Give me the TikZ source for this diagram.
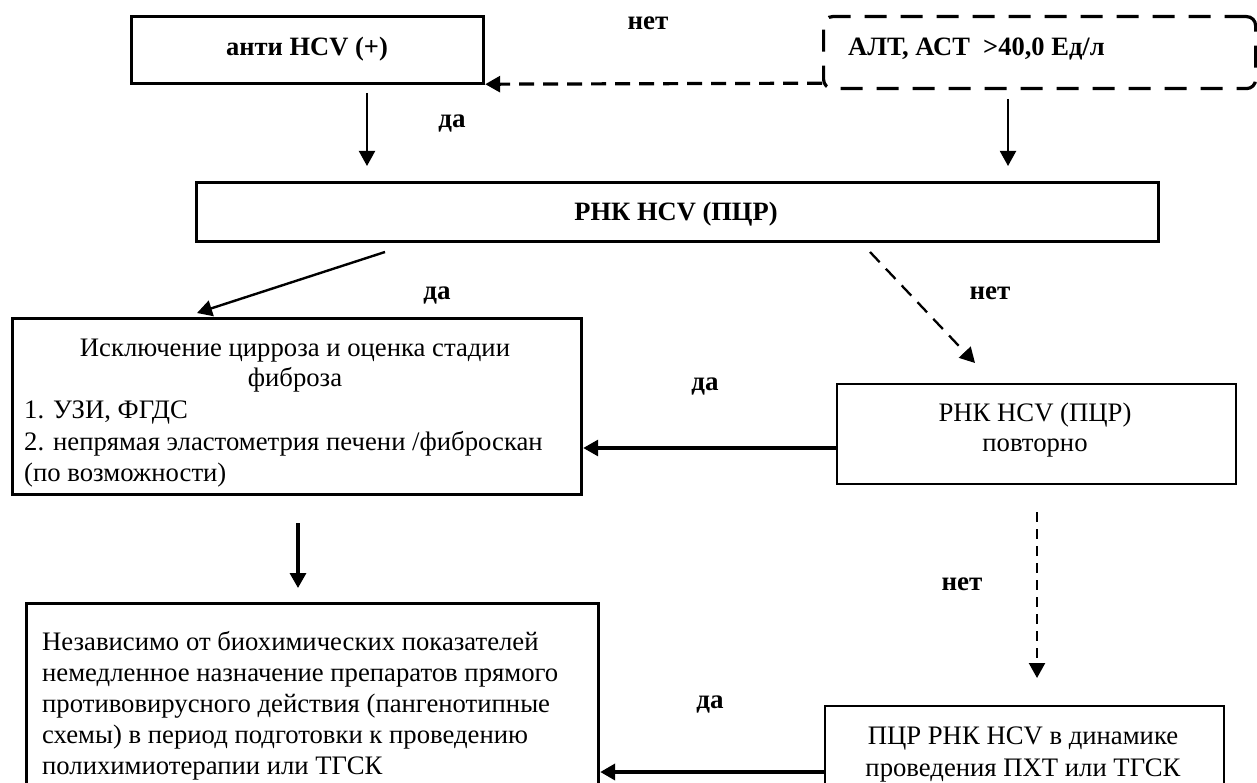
\documentclass[tikz,border=0pt]{standalone}
\usepackage{fontspec}
\setmainfont{Liberation Serif}
\usetikzlibrary{arrows.meta}
\begin{document}
\begin{tikzpicture}[x=1pt,y=-1pt,
  thickbox/.style={draw,line width=3.2pt,inner sep=0pt},
  thinbox/.style={draw,line width=2pt,inner sep=0pt},
  dashbox/.style={draw,line width=3.2pt,inner sep=0pt,rounded corners=9pt,dash pattern=on 22pt off 14pt},
  lbl/.style={font=\fontsize{27}{31}\selectfont\bfseries,inner sep=0pt,anchor=base},
  btxt/.style={font=\fontsize{26.5}{31}\selectfont\bfseries,inner sep=0pt,anchor=base},
  txt/.style={font=\fontsize{26.7}{31}\selectfont,inner sep=0pt,anchor=base},
  ltxt/.style={txt,anchor=base west},
  tip/.style={-{Triangle[length=15pt,width=16pt]}},
  arr/.style={tip,line width=2pt},
  tarr/.style={tip,line width=3.2pt},
  darr/.style={tip,line width=2.3pt,dash pattern=on 11pt off 8pt}]
\useasboundingbox (0,0) rectangle (1257,783);
\clip (0,0) rectangle (1257,783);
\fill[white] (0,0) rectangle (1257,783);

% boxes
\node[thickbox,anchor=north west,minimum width=352pt,minimum height=67pt] (A) at (130,15) {};
\node[btxt] (At) at (307,56) {анти HCV (+)};
\node[dashbox,anchor=north west,minimum width=432pt,minimum height=72pt] (B) at (822,15) {};
\node[btxt,anchor=base west] (Bt) at (848,56) {АЛТ, АСТ\ \ >40,0 Ед/л};
\node[thickbox,anchor=north west,minimum width=962pt,minimum height=59pt] (C) at (195,181) {};
\node[btxt] (Ct) at (676,221) {РНК HCV (ПЦР)};
\node[thickbox,anchor=north west,minimum width=569pt,minimum height=176pt] (E) at (11,317) {};
\node[txt] (E1) at (295,356) {Исключение цирроза и оценка стадии};
\node[txt] (E2) at (295,386) {фиброза};
\node[ltxt] (E3) at (24,418) {1. УЗИ, ФГДС};
\node[ltxt] (E4) at (24,450) {2. непрямая эластометрия печени /фиброскан};
\node[ltxt] (E5) at (24,481) {(по возможности)};
\node[thinbox,anchor=north west,minimum width=399pt,minimum height=100pt] (D) at (836,383) {};
\node[txt] (D1) at (1035,421) {РНК HCV (ПЦР)};
\node[txt] (D2) at (1035,451) {повторно};
\node[thickbox,anchor=north west,minimum width=572pt,minimum height=220pt] (F) at (25,602) {};
\node[ltxt] (F1) at (42,650) {Независимо от биохимических показателей};
\node[ltxt] (F2) at (42,681) {немедленное назначение препаратов прямого};
\node[ltxt] (F3) at (42,712) {противовирусного действия (пангенотипные};
\node[ltxt] (F4) at (42,743) {схемы) в период подготовки к проведению};
\node[ltxt] (F5) at (42,774) {полихимиотерапии или ТГСК};
\node[thinbox,anchor=north west,minimum width=399pt,minimum height=120pt] (G) at (824,705) {};
\node[txt] (G1) at (1023,744) {ПЦР РНК HCV в динамике};
\node[txt] (G2) at (1023,776) {проведения ПХТ или ТГСК};

% labels
\node[lbl] (l1) at (648,30) {нет};
\node[lbl] (l2) at (452,128) {да};
\node[lbl] (l3) at (437,300) {да};
\node[lbl] (l4) at (990,300) {нет};
\node[lbl] (l5) at (705,390) {да};
\node[lbl] (l6) at (962,590) {нет};
\node[lbl] (l7) at (710,708) {да};

% connector end points
\coordinate (a1) at (367,93);
\coordinate (a2) at (367,166);
\coordinate (b1) at (1008,99);
\coordinate (b2) at (1008,166);
\coordinate (c1) at (385,252);
\coordinate (c2) at (197,313);
\coordinate (d1) at (870,252);
\coordinate (d2) at (975,363);
\coordinate (e1) at (298,523);
\coordinate (e2) at (298,588);
\coordinate (g1) at (1037,512);
\coordinate (g2) at (1037,678);
\coordinate (yDE) at (0,448);
\coordinate (yGF) at (0,772);

% connectors
\draw[tip,line width=3.2pt,dash pattern=on 15pt off 9pt] ([yshift=7pt]B.south west) -- ([yshift=1pt]A.south east);
\draw[arr] (a1) -- (a2);
\draw[arr] (b1) -- (b2);
\draw[tip,line width=2.4pt] (c1) -- (c2);
\draw[darr,dash pattern=on 14pt off 9pt] (d1) -- (d2);
\draw[tarr] (D.west |- yDE) -- (E.east |- yDE);
\draw[tarr] (e1) -- (e2);
\draw[darr,dash pattern=on 10pt off 7pt] (g1) -- (g2);
\draw[tip,line width=4pt] (G.west |- yGF) -- (F.east |- yGF);
\end{tikzpicture}
\end{document}
